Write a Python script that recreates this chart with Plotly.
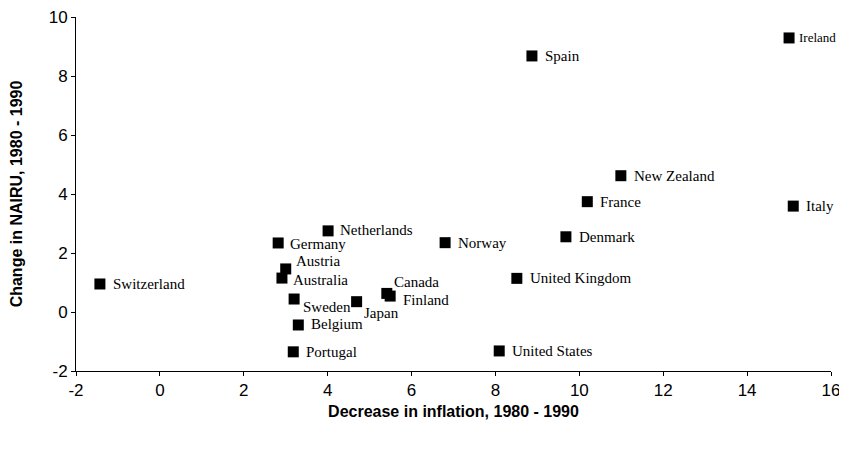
import plotly.graph_objects as go

countries = ["Switzerland", "Germany", "Netherlands", "Austria", "Australia", "Sweden",
             "Japan", "Canada", "Finland", "Belgium", "Portugal", "Norway", "Denmark",
             "United Kingdom", "United States", "Spain", "Ireland", "New Zealand",
             "France", "Italy"]
inflation_drop = [-1.43, 2.82, 4.01, 3.0, 2.91, 3.2, 4.69, 5.41, 5.49, 3.3, 3.18, 6.8,
                  9.68, 8.51, 8.09, 8.87, 15.0, 10.99, 10.19, 15.1]
nairu_change = [0.95, 2.34, 2.75, 1.46, 1.15, 0.44, 0.35, 0.63, 0.54, -0.44, -1.35, 2.35,
                2.55, 1.14, -1.32, 8.68, 9.29, 4.62, 3.74, 3.59]
x_ticks = list(range(-2, 17, 2))
y_ticks = list(range(-2, 11, 2))

# label nudges in pixels (x, y), up is positive
nudge = {"Germany": (10, -1), "Netherlands": (10, 1), "Austria": (8, 8),
         "Australia": (9, -2), "Sweden": (7, -8), "Japan": (5, -11),
         "Canada": (5, 11), "Finland": (11, -4), "Belgium": (11, 1),
         "Ireland": (8, 0)}

fig = go.Figure()
fig.add_trace(go.Scatter(
    x=inflation_drop, y=nairu_change, mode="markers",
    marker=dict(symbol="square", size=11, color="black"),
    hoverinfo="text", text=countries,
))

for name, xv, yv in zip(countries, inflation_drop, nairu_change):
    dx, dy = nudge.get(name, (11, 0))
    size = 13 if name == "Ireland" else 15  # right edge is tight
    fig.add_annotation(x=xv, y=yv, text=name, showarrow=False, xanchor="left",
                       xshift=dx, yshift=dy,
                       font=dict(family="Liberation Serif", size=size, color="black"))

# page body has an 8px margin all round, so the figure is shrunk to fit the window
fig.update_layout(
    width=831, height=427,
    margin=dict(l=68, r=8, t=9, b=64),
    plot_bgcolor="white", paper_bgcolor="white",
    showlegend=False,
    font=dict(family="Liberation Sans", color="black"),
)
fig.update_xaxes(
    range=[-2, 16], tickmode="array", tickvals=x_ticks, ticktext=[str(t) for t in x_ticks],
    showgrid=False, zeroline=False, showline=True, linecolor="black", linewidth=1,
    ticks="outside", ticklen=4, tickcolor="black", tickfont=dict(size=17),
    automargin=False, ticklabeloverflow="allow",
    title=dict(text="<b>Decrease in inflation, 1980 - 1990</b>", font=dict(size=16), standoff=6),
)
fig.update_yaxes(
    range=[-2, 10], tickmode="array", tickvals=y_ticks, ticktext=[str(t) for t in y_ticks],
    showgrid=False, zeroline=False, showline=True, linecolor="black", linewidth=1,
    ticks="outside", ticklen=4, tickcolor="black", tickfont=dict(size=17),
    automargin=False, ticklabeloverflow="allow",
    title=dict(text="<b>Change in NAIRU, 1980 - 1990</b>", font=dict(size=16), standoff=22),
)

fig.write_html("out.html")
